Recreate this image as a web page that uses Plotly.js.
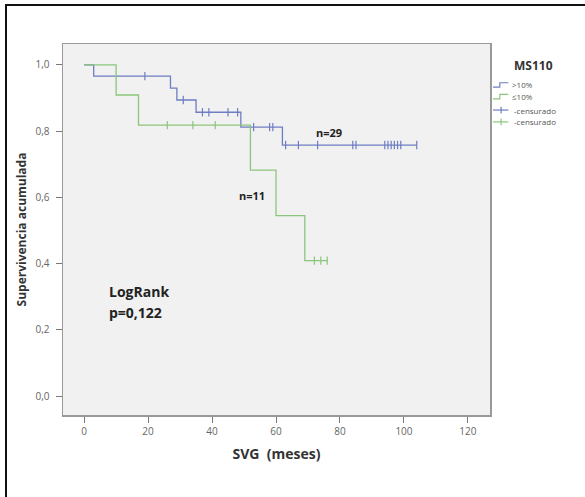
<!DOCTYPE html>
<html>
<head>
<meta charset="utf-8">
<script src="https://cdn.plot.ly/plotly-3.0.1.min.js"></script>
<style>
html,body{margin:0;padding:0;background:#fff;}
#wrap{position:relative;width:585px;height:497px;}
#chart{position:absolute;left:0;top:0;width:585px;height:497px;}
#frame{position:absolute;left:5px;top:4px;width:580px;height:493px;border-left:2px solid #111;border-top:2px solid #111;pointer-events:none;}
</style>
</head>
<body>
<div id="wrap"><div id="chart"></div><div id="frame"></div></div>
<script>
// Kaplan-Meier step data
const legendTitle = 'MS110';
const groupNames = ['>10%', '\u226410%'];
const censorName = '-censurado';
const blueTimes = [0, 3, 27, 29, 35, 49, 62, 104];
const blueSurv  = [1.0, 0.966, 0.930, 0.894, 0.857, 0.812, 0.758, 0.758];
const blueCensor = [19, 31, 37, 39, 45, 48, 53, 58, 59, 63, 67, 73, 84, 85, 94, 95, 96, 97, 98, 99, 104];
const greenTimes = [0, 10, 17, 52, 60, 69, 76];
const greenSurv  = [1.0, 0.909, 0.818, 0.682, 0.545, 0.409, 0.409];
const greenCensor = [26, 34, 41, 72, 74, 76];
const xTicks = [0, 20, 40, 60, 80, 100, 120];
const yTicks = [0.0, 0.2, 0.4, 0.6, 0.8, 1.0];
const labels = [
  {text: 'n=29', x: 76.5, y: 0.796},
  {text: 'n=11', x: 52.4, y: 0.605}
];
const statLines = ['LogRank', 'p=0,122'];
const statPos = {x: 7, y: [0.317, 0.252]};

function stepAt(times, surv, t) {
  let v = surv[0];
  for (let i = 0; i < times.length; i++) { if (times[i] <= t) v = surv[i]; }
  return v;
}

const blueCol = '#6f7dc4';
const greenCol = '#8cc67c';
const cols = [blueCol, greenCol];

const traces = [
  {x: blueTimes, y: blueSurv, name: groupNames[0], type: 'scatter', mode: 'lines', showlegend: false,
   line: {shape: 'hv', color: blueCol, width: 1.3}},
  {x: greenTimes, y: greenSurv, name: groupNames[1], type: 'scatter', mode: 'lines', showlegend: false,
   line: {shape: 'hv', color: greenCol, width: 1.3}},
  {x: blueCensor, y: blueCensor.map(t => stepAt(blueTimes, blueSurv, t)), name: censorName,
   type: 'scatter', mode: 'markers', showlegend: false,
   marker: {symbol: 'line-ns-open', size: 6, color: blueCol, line: {color: blueCol, width: 1.2}}},
  {x: greenCensor, y: greenCensor.map(t => stepAt(greenTimes, greenSurv, t)), name: censorName,
   type: 'scatter', mode: 'markers', showlegend: false,
   marker: {symbol: 'line-ns-open', size: 6, color: greenCol, line: {color: greenCol, width: 1.2}}}
];

const annotations = labels.map(l => ({
  text: '<b>' + l.text + '</b>', x: l.x, y: l.y, xref: 'x', yref: 'y',
  showarrow: false, font: {family: 'Open Sans', size: 11, color: '#222'}
}));
statLines.forEach((s, i) => annotations.push({
  text: '<b>' + s + '</b>', x: statPos.x, y: statPos.y[i], xref: 'x', yref: 'y',
  xanchor: 'left', showarrow: false, font: {family: 'Open Sans', size: 14, color: '#222'}
}));

// Hand-drawn legend (SPSS style, compact rows) in paper coordinates
const shapes = [];
annotations.push({text: '<b>' + legendTitle + '</b>', x: 1.103, y: 0.941, xref: 'paper', yref: 'paper',
  xanchor: 'center', yanchor: 'middle',
  showarrow: false, font: {family: 'Open Sans', size: 12, color: '#333'}});
const rowY = [0.8895, 0.858, 0.822, 0.790];
const lx0 = 1.0070, lxm = 1.0230, lx1 = 1.0430, lxc = 1.0260;
[0, 1].forEach(i => {
  const y = rowY[i];
  shapes.push({type: 'path', xref: 'paper', yref: 'paper',
    path: `M ${lx0} ${y - 0.006} H ${lxm} V ${y + 0.006} H ${lx1}`,
    line: {color: cols[i], width: 1.2}});
  annotations.push({text: groupNames[i], x: 1.0468, y: y, xref: 'paper', yref: 'paper',
    xanchor: 'left', yanchor: 'middle', showarrow: false, font: {size: 8, color: '#555'}});
});
[0, 1].forEach(i => {
  const y = rowY[i + 2];
  shapes.push({type: 'line', xref: 'paper', yref: 'paper', x0: lx0, x1: lx1, y0: y, y1: y,
    line: {color: cols[i], width: 1.2}});
  shapes.push({type: 'line', xref: 'paper', yref: 'paper', x0: lxc, x1: lxc, y0: y - 0.009, y1: y + 0.009,
    line: {color: cols[i], width: 1.2}});
  annotations.push({text: censorName, x: 1.0520, y: y, xref: 'paper', yref: 'paper',
    xanchor: 'left', yanchor: 'middle', showarrow: false, font: {size: 8, color: '#555'}});
});

const layout = {
  width: 585, height: 497,
  margin: {l: 63, r: 95, t: 44, b: 82},
  paper_bgcolor: '#ffffff',
  plot_bgcolor: '#f1f1f1',
  separators: ',.',
  font: {family: 'Open Sans', color: '#555'},
  showlegend: false,
  xaxis: {
    range: [-6.6, 126.9], tickvals: xTicks, ticks: 'outside', ticklen: 6, tickcolor: '#777',
    showline: true, linecolor: '#999', linewidth: 1.5, mirror: true, showgrid: false, zeroline: false,
    tickfont: {size: 10, color: '#666'},
    title: {text: '<b>SVG  (meses)</b>', standoff: 12, font: {size: 14, color: '#333'}}
  },
  yaxis: {
    range: [-0.057, 1.063], tickvals: yTicks, tickformat: '.1f', ticks: 'outside', ticklen: 6, tickcolor: '#777',
    showline: true, linecolor: '#999', linewidth: 1.5, mirror: true, showgrid: false, zeroline: false,
    tickfont: {size: 10, color: '#666'}, ticklabelstandoff: 4,
    title: {text: '<b>Supervivencia acumulada</b>', standoff: 6, font: {size: 12, color: '#333'}}
  },
  shapes: shapes,
  annotations: annotations
};

Plotly.newPlot('chart', traces, layout, {displayModeBar: false, staticPlot: true});
</script>
</body>
</html>
